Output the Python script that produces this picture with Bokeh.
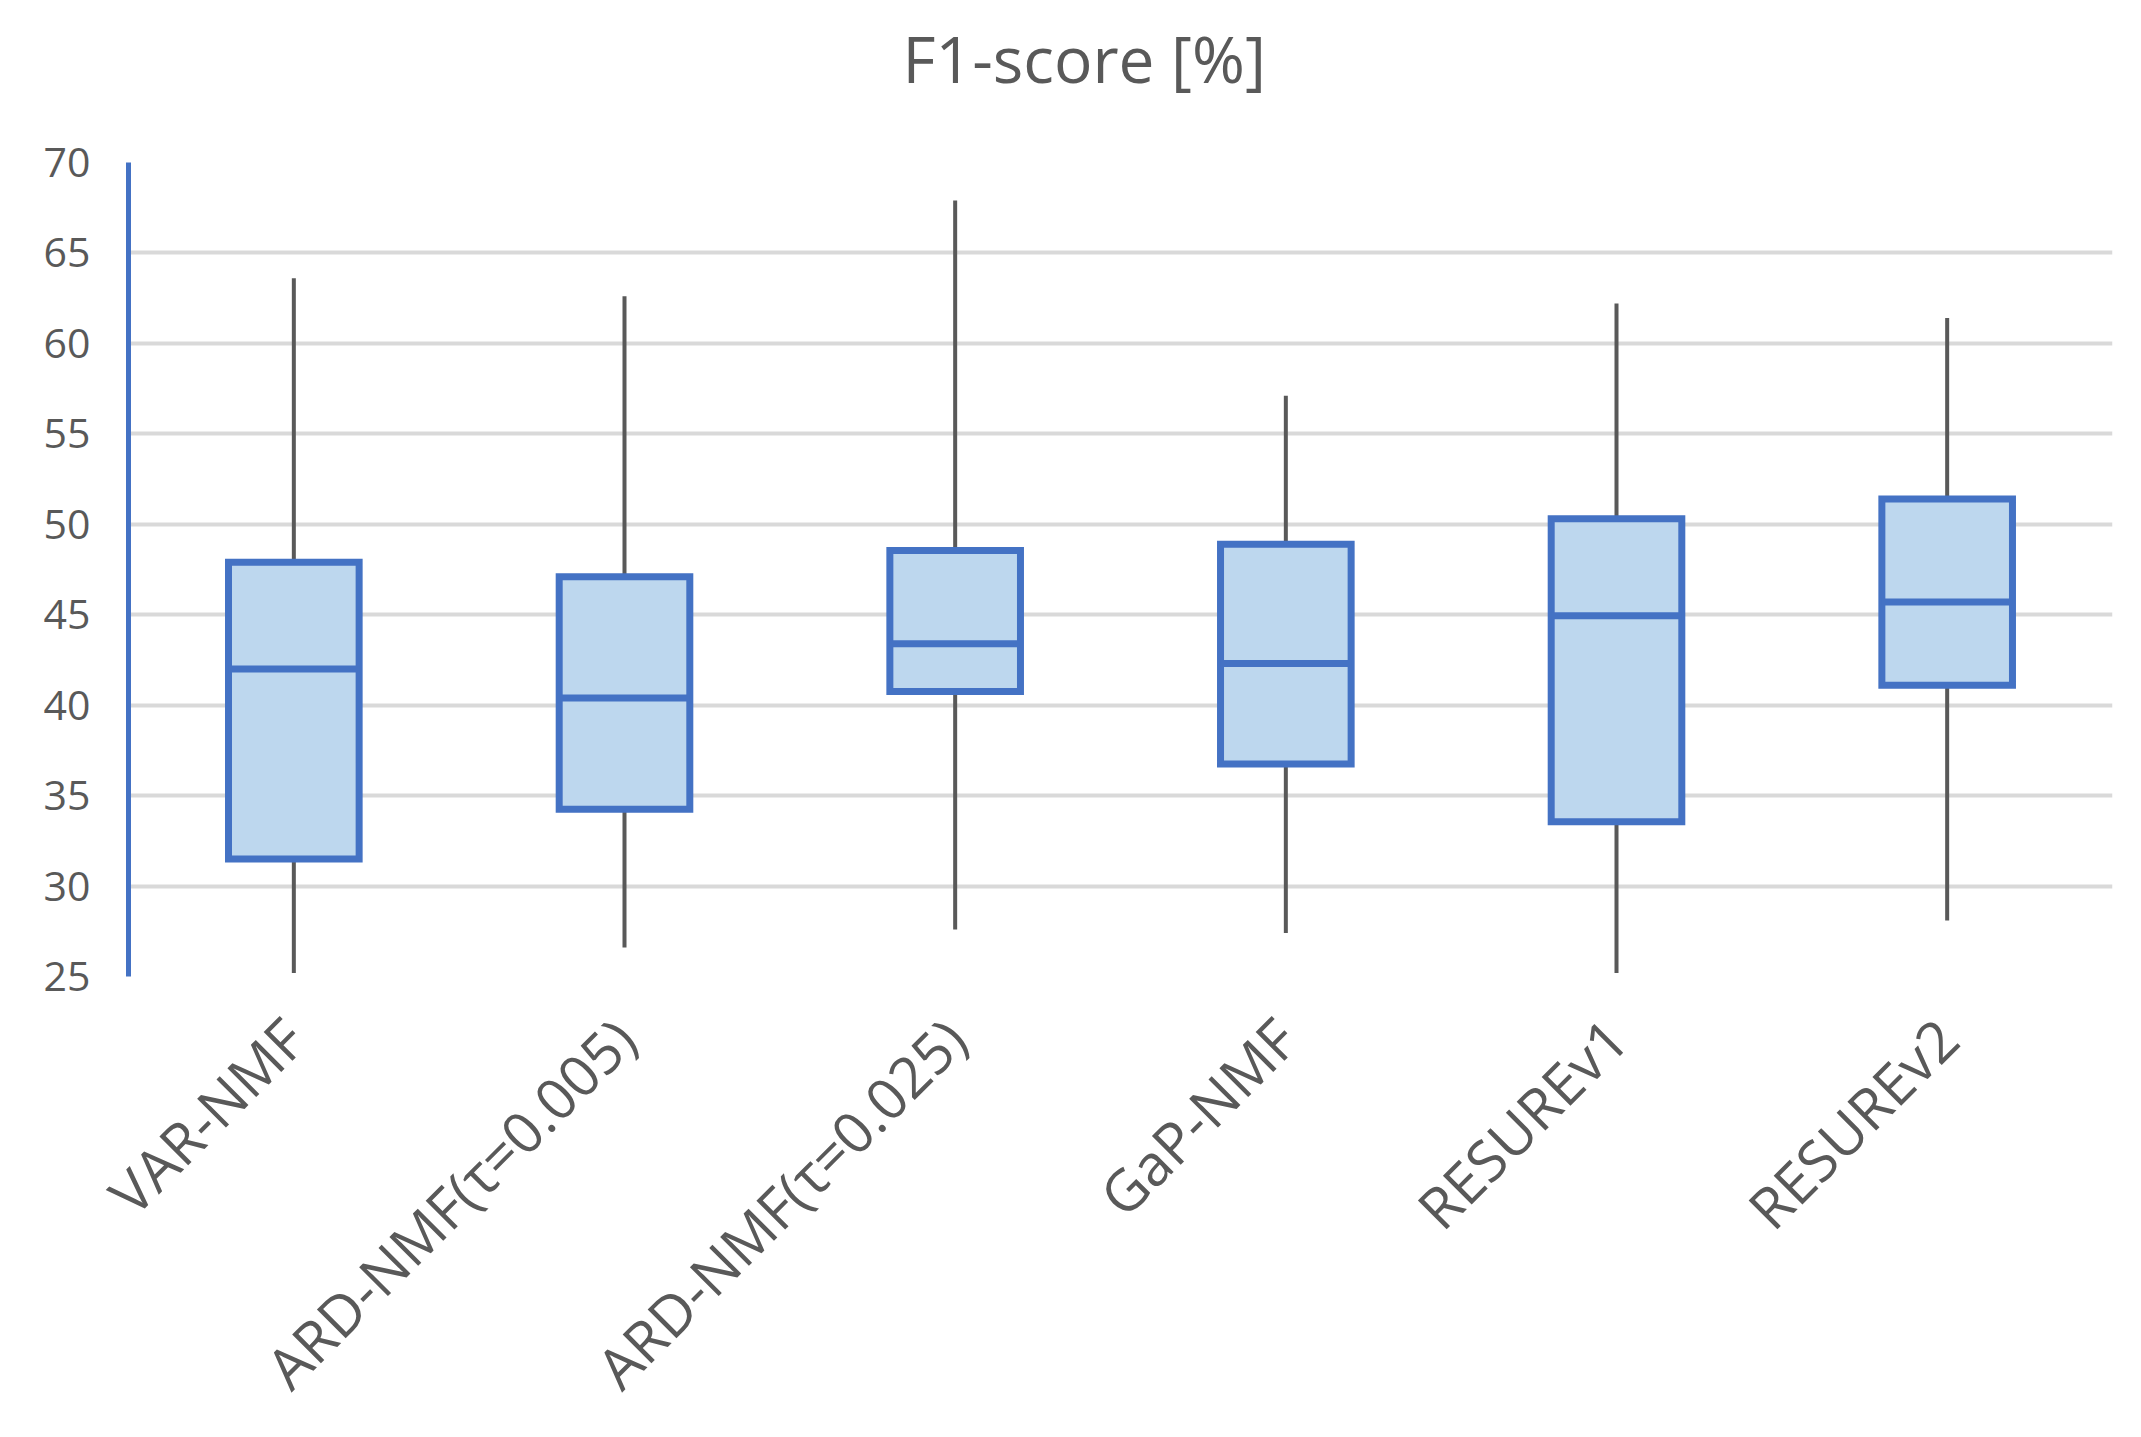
import math
from bokeh.plotting import figure
from bokeh.models import FactorRange, Range1d, SingleIntervalTicker, ColumnDataSource, Title
from bokeh.transform import dodge
from bokeh.embed import file_html
from bokeh.resources import INLINE

# ---- data ----
categories = ["VAR-NMF", "ARD-NMF(τ=0.005)", "ARD-NMF(τ=0.025)", "GaP-NMF", "RESUREv1", "RESUREv2"]
whisker_low = [25.2, 26.6, 27.6, 27.4, 25.2, 28.1]
q1 = [31.5, 34.25, 40.75, 36.75, 33.55, 41.1]
median = [42.0, 40.4, 43.4, 42.3, 44.95, 45.7]
q3 = [47.9, 47.1, 48.55, 48.9, 50.3, 51.4]
whisker_high = [63.6, 62.6, 67.9, 57.1, 62.2, 61.4]
title_text = "F1-score [%]"

TEXT = "#595959"
BLUE = "#4472C4"
FILL = "#BDD7EE"
GRID = "#D9D9D9"
FONT = "Open Sans"
BOX_W = 0.395

src = ColumnDataSource(dict(cat=categories, lo=whisker_low, q1=q1, med=median, q3=q3, hi=whisker_high))

p = figure(
    x_range=FactorRange(*categories),
    y_range=Range1d(25, 70),
    width=2133, height=1435,
    output_backend="svg", toolbar_location=None,
    min_border_left=128, min_border_right=21, min_border_top=162, min_border_bottom=459,
)
p.background_fill_color = "white"
p.border_fill_color = "white"
p.outline_line_color = None

# whiskers
p.segment(x0="cat", y0="q3", x1="cat", y1="hi", source=src, line_color=TEXT, line_width=4)
p.segment(x0="cat", y0="lo", x1="cat", y1="q1", source=src, line_color=TEXT, line_width=4)
# boxes
p.vbar(x="cat", bottom="q1", top="q3", width=BOX_W, source=src,
       fill_color=FILL, line_color=BLUE, line_width=7, line_join="miter")
# medians
p.segment(x0=dodge("cat", -BOX_W / 2, range=p.x_range), y0="med",
          x1=dodge("cat", BOX_W / 2, range=p.x_range), y1="med",
          source=src, line_color=BLUE, line_width=7)

# title
p.title.text = title_text
p.title.align = "left"
p.title.offset = 774
p.title.vertical_align = "top"
p.title.text_font = FONT
p.title.text_font_size = "64px"
p.title.text_font_style = "normal"
p.title.text_color = TEXT
p.title.standoff = 10
# empty spacer between title and plot area
p.add_layout(Title(text=" ", text_font_size="10px", standoff=41), "above")

# y axis
p.yaxis.ticker = SingleIntervalTicker(interval=5)
p.yaxis.axis_line_color = BLUE
p.yaxis.axis_line_width = 5
p.yaxis.major_tick_line_color = None
p.yaxis.minor_tick_line_color = None
p.yaxis.major_tick_out = 0
p.yaxis.major_tick_in = 0
p.yaxis.major_label_standoff = 34
p.yaxis.major_label_text_font = FONT
p.yaxis.major_label_text_font_size = "41px"
p.yaxis.major_label_text_color = TEXT

# x axis
p.xaxis.axis_line_color = None
p.xaxis.major_tick_line_color = None
p.xaxis.minor_tick_line_color = None
p.xaxis.major_tick_out = 0
p.xaxis.major_tick_in = 0
p.xaxis.major_label_orientation = math.pi / 4
p.xaxis.major_label_standoff = 52
p.xaxis.major_label_text_font = FONT
p.xaxis.major_label_text_font_size = "57px"
p.xaxis.major_label_text_color = TEXT

# grid
p.xgrid.grid_line_color = None
p.ygrid.grid_line_color = GRID
p.ygrid.grid_line_width = 4
p.ygrid.ticker = SingleIntervalTicker(interval=5)

open("out.html", "w").write(file_html(p, INLINE))
